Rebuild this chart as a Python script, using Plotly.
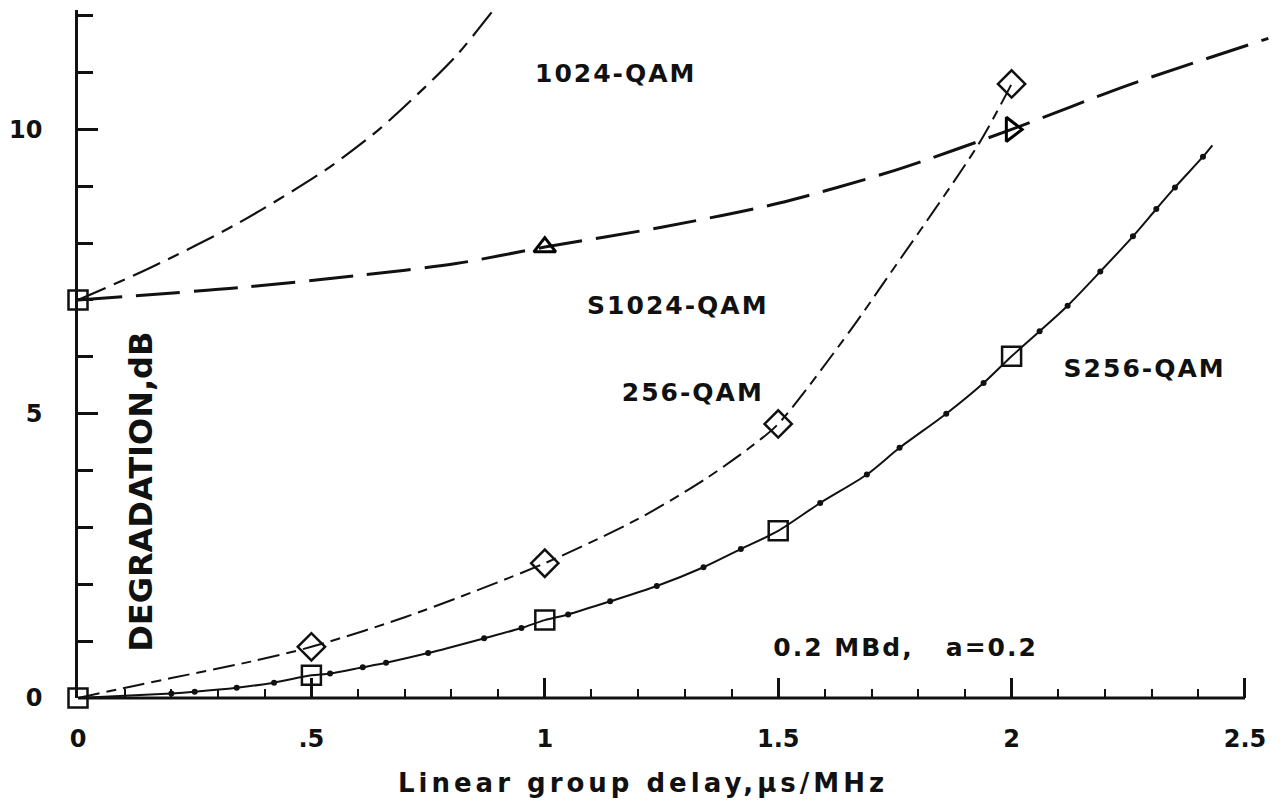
import plotly.graph_objects as go

# ---------------- data ----------------
# S256-QAM : solid line with small computed dots, open squares at the nominal points
s256_sq_x = [0.0, 0.5, 1.0, 1.5, 2.0]
s256_sq_y = [0.0, 0.40, 1.37, 2.94, 6.01]
s256_dot_x = [0.20, 0.25, 0.34, 0.42, 0.54, 0.61, 0.66, 0.75, 0.87, 0.95, 1.05, 1.14,
              1.24, 1.34, 1.42, 1.59, 1.69, 1.76, 1.86, 1.94, 2.06, 2.12, 2.19, 2.26,
              2.31, 2.35, 2.41]
s256_dot_y = [0.08, 0.11, 0.18, 0.27, 0.43, 0.54, 0.62, 0.79, 1.05, 1.23, 1.47, 1.70,
              1.97, 2.30, 2.62, 3.43, 3.93, 4.40, 5.00, 5.54, 6.45, 6.90, 7.50, 8.12,
              8.60, 8.98, 9.52]
s256_end_x = [2.43]
s256_end_y = [9.72]

# 256-QAM : dash-dot line, open diamonds
q256_curve_x = [0.0, 0.13, 0.20, 0.37, 0.50, 0.70, 1.00, 1.20, 1.34, 1.44, 1.50, 1.655, 1.73, 1.93, 2.0]
q256_curve_y = [0.0, 0.23, 0.35, 0.64, 0.90, 1.42, 2.37, 3.15, 3.83, 4.41, 4.82, 6.47, 7.35, 9.75, 10.8]
q256_mark_x = [0.5, 1.0, 1.5, 2.0]
q256_mark_y = [0.90, 2.37, 4.82, 10.8]

# S1024-QAM : long dashes, open triangles
s1024_curve_x = [0.0, 0.35, 0.60, 0.81, 1.00, 1.25, 1.50, 1.75, 2.00, 2.25, 2.55]
s1024_curve_y = [7.0, 7.22, 7.43, 7.64, 7.93, 8.28, 8.70, 9.28, 10.0, 10.78, 11.6]
s1024_mark_x = [1.0, 2.0]
s1024_mark_y = [7.93, 10.0]

# 1024-QAM : dash-dot line leaving the top of the frame
q1024_curve_x = [0.0, 0.156, 0.343, 0.529, 0.642, 0.743, 0.814, 0.889]
q1024_curve_y = [7.0, 7.57, 8.35, 9.28, 9.98, 10.74, 11.33, 12.09]

# shared start square of the 1024 curves
start1024_x = [0.0]
start1024_y = [7.0]

x_tick_vals = [0, 0.5, 1, 1.5, 2, 2.5]
x_tick_text = ["0", ".5", "1", "1.5", "2", "2.5"]
y_tick_vals = [0, 5, 10]
y_tick_text = ["0", "5", "10"]

labels_text = ["1024-QAM", "S1024-QAM", "256-QAM", "S256-QAM", "0.2 MBd,   a=0.2"]
labels_x = [1.152, 1.285, 1.317, 2.285, 1.773]
labels_y = [10.95, 6.87, 5.33, 5.76, 0.84]

FONT = "DejaVu Sans"
INK = "#111111"

fig = go.Figure()

# S256-QAM line through squares, dots and end
pts = sorted(zip(s256_sq_x + s256_dot_x + s256_end_x, s256_sq_y + s256_dot_y + s256_end_y))
fig.add_trace(go.Scatter(x=[p[0] for p in pts], y=[p[1] for p in pts], mode="lines",
                         line=dict(color=INK, width=2, shape="spline", smoothing=0.8),
                         hoverinfo="skip", showlegend=False))
fig.add_trace(go.Scatter(x=s256_dot_x, y=s256_dot_y, mode="markers",
                         marker=dict(color=INK, size=6), showlegend=False))
fig.add_trace(go.Scatter(x=s256_sq_x, y=s256_sq_y, mode="markers", cliponaxis=False,
                         marker=dict(symbol="square-open", size=19, color=INK,
                                     line=dict(width=2.5, color=INK)), showlegend=False))

# 256-QAM
fig.add_trace(go.Scatter(x=q256_curve_x, y=q256_curve_y, mode="lines",
                         line=dict(color=INK, width=2, dash="22px,7px,10px,7px",
                                   shape="spline", smoothing=0.8),
                         showlegend=False))
fig.add_trace(go.Scatter(x=q256_mark_x, y=q256_mark_y, mode="markers", cliponaxis=False,
                         marker=dict(symbol="diamond-open", size=21, color=INK,
                                     line=dict(width=2.5, color=INK)), showlegend=False))

# S1024-QAM
fig.add_trace(go.Scatter(x=s1024_curve_x, y=s1024_curve_y, mode="lines",
                         line=dict(color=INK, width=3, dash="44px,14px",
                                   shape="spline", smoothing=0.8),
                         showlegend=False))
fig.add_trace(go.Scatter(x=s1024_mark_x[:1], y=s1024_mark_y[:1], mode="markers", cliponaxis=False,
                         marker=dict(symbol="triangle-up-open", size=19, color="black",
                                     line=dict(width=3, color="black")), showlegend=False))
fig.add_trace(go.Scatter(x=s1024_mark_x[1:], y=s1024_mark_y[1:], mode="markers", cliponaxis=False,
                         marker=dict(symbol="triangle-right-open", size=21, color="black",
                                     line=dict(width=3, color="black")), showlegend=False))

# 1024-QAM
fig.add_trace(go.Scatter(x=q1024_curve_x, y=q1024_curve_y, mode="lines",
                         line=dict(color=INK, width=2.2, dash="30px,9px,12px,9px",
                                   shape="spline", smoothing=0.8),
                         showlegend=False))
fig.add_trace(go.Scatter(x=start1024_x, y=start1024_y, mode="markers", cliponaxis=False,
                         marker=dict(symbol="square-open", size=19, color=INK,
                                     line=dict(width=2.5, color=INK)), showlegend=False))

# curve labels
fig.add_trace(go.Scatter(x=labels_x, y=labels_y, mode="text", text=labels_text,
                         textposition="middle center", cliponaxis=False,
                         textfont=dict(family=FONT, size=25, color=INK, weight="bold"),
                         showlegend=False, hoverinfo="skip"))

fig.update_layout(
    width=1287, height=812,
    margin=dict(l=78, r=14, t=10, b=114),
    paper_bgcolor="white", plot_bgcolor="white",
    showlegend=False,
    xaxis=dict(range=[0, 2.56], showgrid=False, zeroline=False, showline=False,
               tickmode="array", tickvals=x_tick_vals, ticktext=x_tick_text,
               ticks="inside", ticklen=20, tickwidth=2.5, tickcolor=INK,
               ticklabelstandoff=24,
               tickfont=dict(family=FONT, size=24, color=INK, weight="bold"),
               minor=dict(tickmode="linear", tick0=0, dtick=0.1, ticks="inside",
                          ticklen=9, tickwidth=2, tickcolor=INK)),
    yaxis=dict(range=[0, 12.1], showgrid=False, zeroline=False, showline=True,
               linecolor=INK, linewidth=2.5,
               tickmode="array", tickvals=y_tick_vals, ticktext=y_tick_text,
               ticks="inside", ticklen=20, tickwidth=2.5, tickcolor=INK,
               ticklabelstandoff=28,
               tickfont=dict(family=FONT, size=24, color=INK, weight="bold"),
               minor=dict(tickmode="linear", tick0=0, dtick=1, ticks="inside",
                          ticklen=15, tickwidth=2.5, tickcolor=INK)),
    shapes=[dict(type="line", xref="x", yref="paper", x0=0, x1=2.5, y0=0, y1=0,
                 line=dict(color=INK, width=3))],
    annotations=[
        dict(text="Linear group delay,\u00b5s/MHz", xref="paper", yref="paper",
             x=0.473, y=-0.123, xanchor="center", yanchor="middle", showarrow=False,
             font=dict(family=FONT, size=26, color=INK, weight="bold")),
        dict(text="DEGRADATION,dB", xref="paper", yref="paper", textangle=-90,
             x=0.052, y=0.30, xanchor="center", yanchor="middle", showarrow=False,
             font=dict(family=FONT, size=32, color=INK, weight="bold")),
    ],
)

post = """
document.body.style.margin='0px';
document.body.style.overflow='hidden';
var st=document.createElement('style');
st.textContent='.textpoint text{letter-spacing:2px;}';
document.head.appendChild(st);
var an=document.querySelectorAll('.annotation-text');
if(an.length>0){an[0].style.letterSpacing='4px';}
"""

fig.write_html("out.html", config={"displayModeBar": False}, post_script=post)
